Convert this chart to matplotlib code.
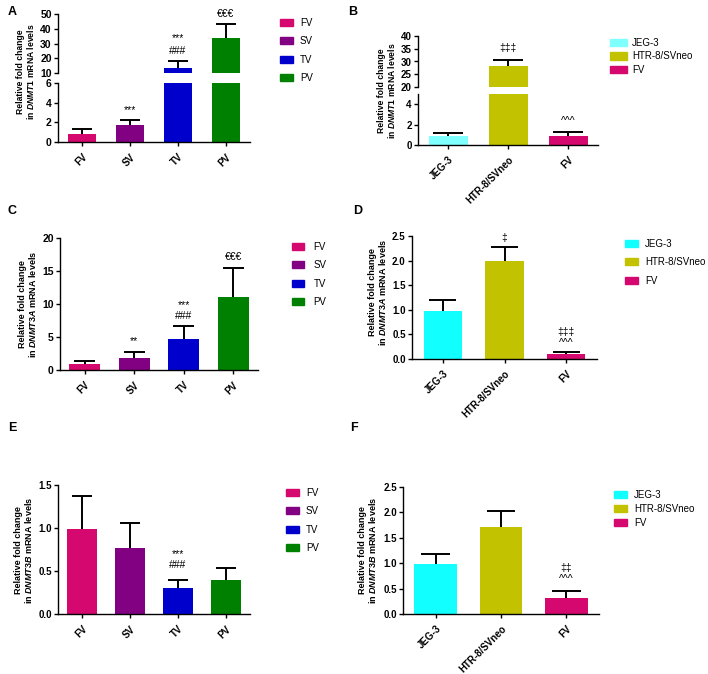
import matplotlib

matplotlib.use("Agg")
import matplotlib.pyplot as plt
from matplotlib.patches import Patch

plt.rcParams["font.family"] = ["Liberation Sans", "DejaVu Sans"]
plt.rcParams["font.weight"] = "bold"
plt.rcParams["mathtext.fontset"] = "custom"
plt.rcParams["mathtext.rm"] = "Liberation Sans:bold"
plt.rcParams["mathtext.it"] = "Liberation Sans:italic:bold"

W, H = 708, 674

# groups
tissue_groups = ["FV", "SV", "TV", "PV"]
tissue_colors = ["#D4086E", "#820082", "#0000CD", "#008000"]
cell_groups = ["JEG-3", "HTR-8/SVneo", "FV"]
cell_colors = ["#11FFFF", "#C2C200", "#D4086E"]
cell_colors_b = ["#80FFFF", "#C2C200", "#D4086E"]

# mean and SEM (upper error bar)
dnmt1_tissue = [0.85, 1.75, 13.4, 33.7]
dnmt1_tissue_sem = [0.45, 0.5, 4.7, 9.5]
dnmt1_cell = [0.9, 28.2, 0.85]
dnmt1_cell_sem = [0.25, 2.4, 0.38]
dnmt3a_tissue = [0.85, 1.8, 4.7, 11.1]
dnmt3a_tissue_sem = [0.55, 1.0, 1.9, 4.4]
dnmt3a_cell = [0.97, 1.99, 0.1]
dnmt3a_cell_sem = [0.23, 0.29, 0.05]
dnmt3b_tissue = [0.99, 0.77, 0.3, 0.39]
dnmt3b_tissue_sem = [0.38, 0.29, 0.1, 0.14]
dnmt3b_cell = [0.98, 1.72, 0.31]
dnmt3b_cell_sem = [0.21, 0.30, 0.14]

# significance marks
dnmt1_tissue_marks = ["", "***", "***\n###", "€€€"]
dnmt1_cell_marks = ["", "‡‡‡", "^^^"]
dnmt3a_tissue_marks = ["", "**", "***\n###", "€€€"]
dnmt3a_cell_marks = ["", "‡", "‡‡‡\n^^^"]
dnmt3b_tissue_marks = ["", "", "***\n###", ""]
dnmt3b_cell_marks = ["", "", "‡‡\n^^^"]


def px_axes(fig, left, right, top, bottom):
    return fig.add_axes([left / W, 1 - bottom / H, (right - left) / W, (bottom - top) / H])


def style(ax, names, size=7.5):
    for s in ("top", "right"):
        ax.spines[s].set_visible(False)
    ax.spines["left"].set_linewidth(1.0)
    ax.spines["bottom"].set_linewidth(1.0)
    ax.tick_params(axis="both", length=3, width=1, labelsize=size, pad=1.5)
    ax.tick_params(axis="x", pad=4)
    ax.set_xlim(-0.5, len(names) - 0.5)
    ax.set_xticks(range(len(names)))
    ax.set_xticklabels(names, rotation=45, ha="right", rotation_mode="anchor", fontsize=7)


def bars(ax, vals, sems, colors, width, cap):
    x = list(range(len(vals)))
    tops = [v + s for v, s in zip(vals, sems)]
    ax.vlines(x, vals, tops, color="black", lw=1.4, zorder=1)
    ax.hlines(tops, [i - cap for i in x], [i + cap for i in x], color="black", lw=1.4, zorder=1)
    ax.bar(x, vals, width=width, color=colors, linewidth=0, zorder=2)


def marks(axes, vals, sems, labels, offset=4, spacing=1.3, size=7.5):
    for i, (v, s, t) in enumerate(zip(vals, sems, labels)):
        if not t:
            continue
        top = v + s
        ax = axes[-1]
        for a in axes:
            lo, hi = a.get_ylim()
            if lo <= top <= hi:
                ax = a
        ax.annotate(t, (i, top), xytext=(0, offset), textcoords="offset points",
                    ha="center", va="bottom", fontsize=size, fontweight="normal",
                    linespacing=spacing, annotation_clip=False)


def legend(fig, names, colors, x, y, spacing, hlen=1.35, pad=0.7):
    handles = [Patch(color=c, label=n) for n, c in zip(names, colors)]
    fig.legend(handles=handles, loc="upper left", bbox_to_anchor=(x / W, 1 - y / H),
               frameon=False, prop={"size": 7, "weight": "normal"}, handlelength=hlen,
               handleheight=0.75, labelspacing=spacing, handletextpad=pad,
               borderpad=0, borderaxespad=0)


def ylabel(fig, x, y, gene, size=6.5):
    fig.text(x / W, 1 - y / H, "Relative fold change\nin $\\mathit{%s}$ mRNA levels" % gene,
             rotation=90, ha="center", va="center", fontsize=size, linespacing=1.1)


def letter(fig, x, y, s):
    fig.text(x / W, 1 - y / H, s, fontsize=9, fontweight="bold", va="center")


def broken(fig, box_top, box_bot, lim_top, lim_bot, ticks_top, ticks_bot, names, size):
    ax_t = px_axes(fig, *box_top)
    ax_b = px_axes(fig, *box_bot)
    style(ax_b, names, size)
    style(ax_t, names, size)
    ax_t.spines["bottom"].set_visible(False)
    ax_t.tick_params(axis="x", bottom=False, labelbottom=False)
    ax_t.set_ylim(*lim_top)
    ax_b.set_ylim(*lim_bot)
    ax_t.set_yticks(ticks_top)
    ax_b.set_yticks(ticks_bot)
    return ax_t, ax_b


fig = plt.figure(figsize=(W / 100, H / 100), dpi=100)

# A
ax_t, ax_b = broken(fig, (58, 250, 14, 73), (58, 250, 83, 142), (10, 50), (0, 6),
                    [10, 20, 30, 40, 50], [0, 2, 4, 6], tissue_groups, 7.5)
for a in (ax_t, ax_b):
    bars(a, dnmt1_tissue, dnmt1_tissue_sem, tissue_colors, 0.6, 0.21)
marks([ax_b, ax_t], dnmt1_tissue, dnmt1_tissue_sem, dnmt1_tissue_marks, offset=3.5, spacing=1.35)
legend(fig, tissue_groups, tissue_colors, 280, 18, 0.85)
ylabel(fig, 26, 72, "DNMT1", 6.2)
letter(fig, 8, 12, "A")

# B
ax_t, ax_b = broken(fig, (418, 598, 36, 87), (418, 598, 94, 145), (20, 40), (0, 5),
                    [20, 25, 30, 35, 40], [0, 2, 4], cell_groups, 7)
for a in (ax_t, ax_b):
    bars(a, dnmt1_cell, dnmt1_cell_sem, cell_colors_b, 0.65, 0.25)
marks([ax_b, ax_t], dnmt1_cell, dnmt1_cell_sem, dnmt1_cell_marks, offset=5)
legend(fig, cell_groups, cell_colors_b, 610, 38, 0.35, hlen=1.75, pad=0.5)
ylabel(fig, 387, 91, "DNMT1", 6.2)
letter(fig, 348, 12, "B")

# C
ax = px_axes(fig, 60, 258, 238, 370)
style(ax, tissue_groups)
ax.set_ylim(0, 20)
ax.set_yticks([0, 5, 10, 15, 20])
bars(ax, dnmt3a_tissue, dnmt3a_tissue_sem, tissue_colors, 0.62, 0.21)
marks([ax], dnmt3a_tissue, dnmt3a_tissue_sem, dnmt3a_tissue_marks, offset=4, spacing=1.1)
legend(fig, tissue_groups, tissue_colors, 292, 242, 0.85, hlen=1.2, pad=1.0)
ylabel(fig, 28, 304, "DNMT3A")
letter(fig, 8, 211, "C")

# D
ax = px_axes(fig, 412, 597, 236, 359)
style(ax, cell_groups, 7)
ax.set_ylim(0, 2.5)
ax.set_yticks([0, 0.5, 1.0, 1.5, 2.0, 2.5])
ax.set_yticklabels(["0.0", "0.5", "1.0", "1.5", "2.0", "2.5"])
bars(ax, dnmt3a_cell, dnmt3a_cell_sem, cell_colors, 0.62, 0.22)
marks([ax], dnmt3a_cell, dnmt3a_cell_sem, dnmt3a_cell_marks, offset=2.5, spacing=1.1)
legend(fig, cell_groups, cell_colors, 625, 239, 0.85)
ylabel(fig, 378, 292, "DNMT3A")
letter(fig, 353, 211, "D")

# E
ax = px_axes(fig, 58, 250, 485, 614)
style(ax, tissue_groups, 7)
ax.set_ylim(0, 1.5)
ax.set_yticks([0, 0.5, 1.0, 1.5])
ax.set_yticklabels(["0.0", "0.5", "1.0", "1.5"])
bars(ax, dnmt3b_tissue, dnmt3b_tissue_sem, tissue_colors, 0.62, 0.21)
marks([ax], dnmt3b_tissue, dnmt3b_tissue_sem, dnmt3b_tissue_marks, offset=7, spacing=1.15)
legend(fig, tissue_groups, tissue_colors, 286, 488, 0.85)
ylabel(fig, 24, 550, "DNMT3B")
letter(fig, 8, 428, "E")

# F
ax = px_axes(fig, 403, 599, 487, 614)
style(ax, cell_groups, 7)
ax.set_ylim(0, 2.5)
ax.set_yticks([0, 0.5, 1.0, 1.5, 2.0, 2.5])
ax.set_yticklabels(["0.0", "0.5", "1.0", "1.5", "2.0", "2.5"])
bars(ax, dnmt3b_cell, dnmt3b_cell_sem, cell_colors, 0.65, 0.22)
marks([ax], dnmt3b_cell, dnmt3b_cell_sem, dnmt3b_cell_marks, offset=5, spacing=1.1)
legend(fig, cell_groups, cell_colors, 614, 490, 0.4)
ylabel(fig, 368, 550, "DNMT3B")
letter(fig, 350, 428, "F")

fig.savefig("out.png", dpi=100)
plt.close(fig)
